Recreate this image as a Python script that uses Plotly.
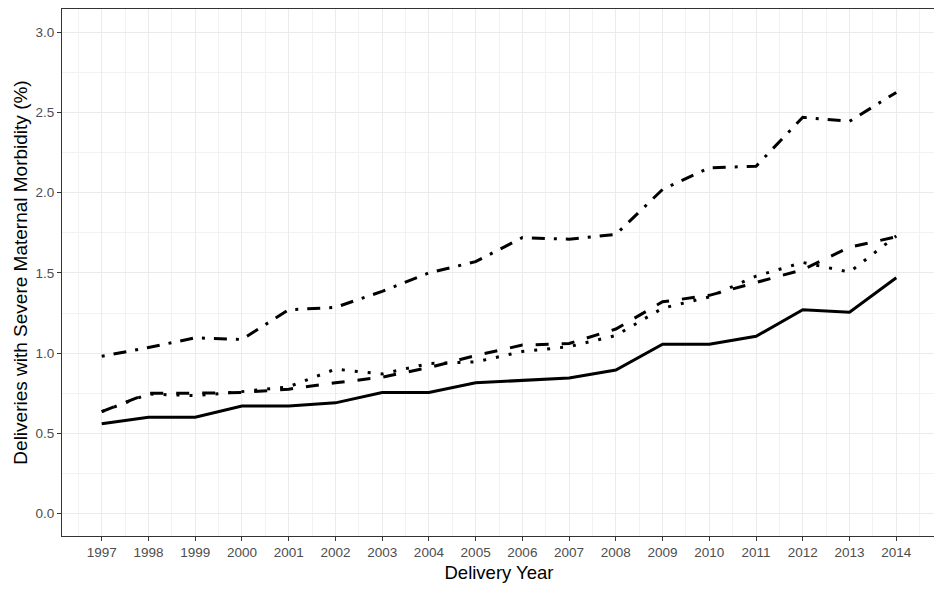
import plotly.graph_objects as go

years = list(range(1997, 2015))

solid_vals = [0.56, 0.60, 0.60, 0.67, 0.67, 0.69, 0.755, 0.755, 0.815, 0.83, 0.845, 0.895,
              1.055, 1.055, 1.105, 1.27, 1.255, 1.47]
dotdash_vals = [0.98, 1.035, 1.095, 1.085, 1.27, 1.285, 1.385, 1.50, 1.57, 1.72, 1.71, 1.74,
                2.02, 2.155, 2.165, 2.47, 2.445, 2.625]
dashed_vals = [0.635, 0.75, 0.75, 0.755, 0.775, 0.815, 0.85, 0.91, 0.985, 1.05, 1.06, 1.15,
               1.32, 1.36, 1.44, 1.52, 1.66, 1.725]
dotted_vals = [0.635, 0.745, 0.735, 0.76, 0.79, 0.90, 0.87, 0.935, 0.945, 1.01, 1.04, 1.11,
               1.28, 1.35, 1.48, 1.565, 1.505, 1.73]

y_ticks = [0.0, 0.5, 1.0, 1.5, 2.0, 2.5, 3.0]
y_tick_labels = ["0.0", "0.5", "1.0", "1.5", "2.0", "2.5", "3.0"]

series = [
    ("Solid", solid_vals, "solid"),
    ("Dot-dash", dotdash_vals, "3px,9px,13px,9px"),
    ("Dashed", dashed_vals, "13px,13px"),
    ("Dotted", dotted_vals, "3px,10px"),
]

fig = go.Figure()
for name, vals, dash in series:
    fig.add_trace(go.Scatter(
        x=years, y=vals, mode="lines", name=name,
        line=dict(color="black", width=3, dash=dash),
        showlegend=False,
    ))

axis_common = dict(
    showline=True, mirror=True, linecolor="#333333", linewidth=1.2,
    ticks="outside", ticklen=4, tickcolor="#333333", tickwidth=1,
    showgrid=True, gridcolor="#ebebeb", gridwidth=1.2,
    zeroline=False, automargin=False,
    tickfont=dict(family="Liberation Sans, Arial, sans-serif", size=13.5, color="#4d4d4d"),
)

# The page body has an 8px default margin, so the figure is sized to fit the window.
fig.update_layout(
    width=934, height=581,
    margin=dict(l=54, r=6, t=1, b=53),
    paper_bgcolor="white", plot_bgcolor="white",
    font=dict(family="Liberation Sans, Arial, sans-serif"),
    xaxis=dict(
        range=[1996.15, 2014.85], tickmode="array", tickvals=years,
        ticktext=[str(y) for y in years],
        title=dict(text="Delivery Year", font=dict(size=18.5, color="black"), standoff=6),
        minor=dict(dtick=0.5, tick0=1996.5, showgrid=True, gridcolor="#f2f2f2", gridwidth=0.8, ticks=""),
        **axis_common,
    ),
    yaxis=dict(
        range=[-0.14, 3.145], tickmode="array", tickvals=y_ticks, ticktext=y_tick_labels,
        title=dict(text="Deliveries with Severe Maternal Morbidity (%)", font=dict(size=19, color="black"), standoff=2),
        minor=dict(dtick=0.25, tick0=0, showgrid=True, gridcolor="#f2f2f2", gridwidth=0.8, ticks=""),
        **axis_common,
    ),
)

fig.write_html("out.html")
